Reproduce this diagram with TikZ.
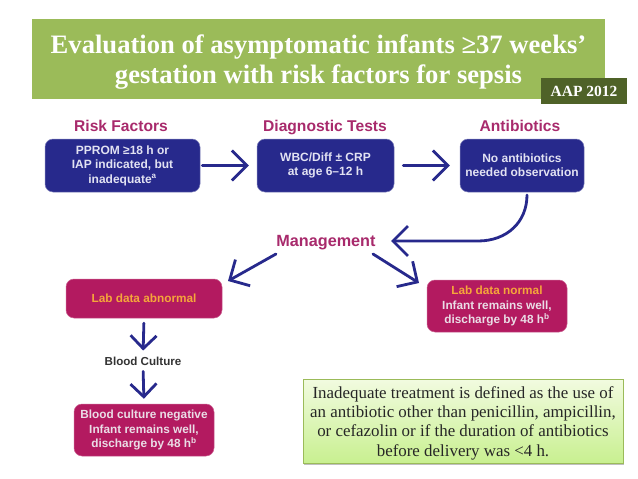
\documentclass[tikz,border=0pt]{standalone}
\usepackage{fontspec}
\setmainfont{Liberation Serif}
\setsansfont{Liberation Sans}
\usetikzlibrary{arrows.meta,shadows,calc}
\definecolor{titlegreen}{HTML}{9BBB59}
\definecolor{darkgreen}{HTML}{4F6228}
\definecolor{navy}{HTML}{27298C}
\definecolor{crimson}{HTML}{B31A60}
\definecolor{headmag}{HTML}{A82A6C}
\definecolor{softorange}{HTML}{F5A63A}
\definecolor{softwhite}{HTML}{EADDE6}
\definecolor{softblue}{HTML}{E2E2F2}
\definecolor{notetop}{HTML}{F2FBE0}
\definecolor{notebot}{HTML}{C8F090}
\tikzset{
  x=1pt,y=-1pt,
  heading/.style={font=\sffamily\bfseries\fontsize{15.6}{18}\selectfont,text=headmag,inner sep=0pt,anchor=base},
  bluebox/.style={fill=navy,rounded corners=8pt,draw=navy!60,line width=.5pt,text=softblue,align=center,
    font=\sffamily\bfseries\fontsize{12}{14.4}\selectfont,inner sep=0pt},
  redbox/.style={fill=crimson,rounded corners=8pt,draw=crimson!70,line width=.5pt,text=softwhite,align=center,
    font=\sffamily\bfseries\fontsize{11.8}{14.4}\selectfont,inner sep=0pt},
  flow/.style={draw=navy,line width=2.8pt,line cap=round,-{Straight Barb[length=15pt,width=30pt,line width=2.8pt]}},
  flowsmall/.style={draw=navy,line width=2.8pt,line cap=round,-{Straight Barb[length=13pt,width=26pt,line width=2.8pt]}},
}
\newcommand{\boxat}[6][bluebox]{\node[#1,minimum width=#4-#3,minimum height=#6-#5] (#2) at ({(#3+#4)/2},{(#5+#6)/2})}
\begin{document}
\begin{tikzpicture}
\useasboundingbox (0,0) rectangle (638,479);
\fill[white] (0,0) rectangle (638,479);
% title
\node[fill=titlegreen,minimum width=573pt,minimum height=80pt,inner sep=0pt] (title) at (318.5,59) {};
\node[font=\bfseries\fontsize{26.6}{30}\selectfont,text=white,align=center,inner sep=0pt] (titletext) at (318.5,62)
  {Evaluation of asymptomatic infants ≥37 weeks’\\gestation with risk factors for sepsis};
\node[fill=darkgreen,minimum width=86pt,minimum height=26pt,inner sep=0pt,text=white,
  font=\bfseries\fontsize{15.5}{17}\selectfont] (aap) at (584,91) {AAP 2012};
% headings
\node[heading] (h1) at (121,131) {Risk Factors};
\node[heading] (h2) at (325,131) {Diagnostic Tests};
\node[heading] (h3) at (520,131) {Antibiotics};
% blue boxes
\boxat{b1}{45}{200}{139}{192} {PPROM ≥18 h or\\IAP indicated, but\\inadequate\textsuperscript{a}};
\boxat{b2}{257}{394}{139}{192} {WBC/Diff ± CRP\\at age 6–12 h};
\boxat{b3}{460}{584}{139}{192} {No antibiotics\\needed observation};
% management
\node[heading,font=\sffamily\bfseries\fontsize{16.2}{18}\selectfont] (mg) at (326,246) {Management};
% red boxes
\boxat[redbox]{r1}{66}{222}{279}{318} {\textcolor{softorange}{Lab data abnormal}};
\node[font=\sffamily\bfseries\fontsize{11.6}{13}\selectfont,text=black!80,inner sep=0pt] (bc) at (143,361) {Blood Culture};
\boxat[redbox]{r2}{74}{214}{404}{456} {Blood culture negative\\Infant remains well,\\discharge by 48 h\textsuperscript{b}};
\boxat[redbox]{r3}{427}{567}{280}{332} {\textcolor{softorange}{Lab data normal}\\Infant remains well,\\discharge by 48 h\textsuperscript{b}};
% note
\node[draw=titlegreen,line width=.6pt,top color=notetop,bottom color=notebot,drop shadow={shadow xshift=1pt,shadow yshift=-1.5pt,opacity=.5},
  minimum width=320pt,minimum height=84pt,inner sep=0pt] (note) at (463,421) {};
\node[font=\fontsize{16.9}{19.3}\selectfont,text=black!85,align=center,inner sep=0pt] (notetext) at (463,423)
  {Inadequate treatment is defined as the use of\\an antibiotic other than penicillin, ampicillin,\\or cefazolin or if the duration of antibiotics\\before delivery was <4 h.};
% free ends
\coordinate (curvestart) at (527,195);
\coordinate (curvemid) at (478,241);
\coordinate (curveend) at (391,241);
\coordinate (ltail) at (276,254);
\coordinate (ltip) at (228,281);
\coordinate (rtail) at (373,254);
\coordinate (rtip) at (419,283);
% connectors
\draw[flow,shorten <=2pt,shorten >=8pt] (b1.east) -- (b2.west);
\draw[flow,shorten <=9pt,shorten >=10pt] (b2.east) -- (b3.west);
\draw[flow] (curvestart) .. controls (527,222) and (507,241) .. (curvemid) -- (curveend);
\draw[flow] (ltail) -- (ltip);
\draw[flow] (rtail) -- (rtip);
\draw[flowsmall,shorten <=5pt,shorten >=6pt] (r1.south) -- (bc.north);
\draw[flowsmall,shorten <=6pt,shorten >=5pt] (bc.south) -- (r2.north);
\end{tikzpicture}
\end{document}
